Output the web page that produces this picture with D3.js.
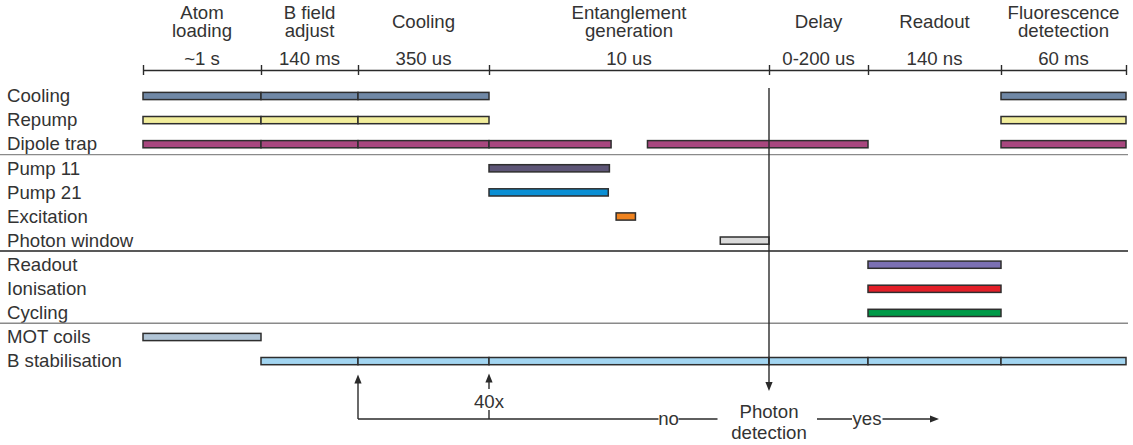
<!DOCTYPE html>
<html>
<head>
<meta charset="utf-8">
<script src="https://cdn.jsdelivr.net/npm/d3@7"></script>
<style>
  body { margin: 0; background: #fff; }
  svg { display: block; }
  text { font-family: "Liberation Sans", Arial, Helvetica, sans-serif; fill: #333; }
</style>
</head>
<body>
<svg id="chart" width="1133" height="445"></svg>
<script>
// ---- Sequence phases -------------------------------------------------------
const phaseNames = [
  ["Atom", "loading"], ["B field", "adjust"], ["Cooling"],
  ["Entanglement", "generation"], ["Delay"], ["Readout"],
  ["Fluorescence", "detetection"]
];
const phaseDurations = ["~1 s", "140 ms", "350 us", "10 us", "0-200 us", "140 ns", "60 ms"];

// ---- Channels (one row each) ----------------------------------------------
const channels = [
  "Cooling", "Repump", "Dipole trap",
  "Pump 11", "Pump 21", "Excitation", "Photon window",
  "Readout", "Ionisation", "Cycling",
  "MOT coils", "B stabilisation"
];
const groupEnds = ["Dipole trap", "Photon window", "Cycling"];
const channelColors = [
  "#7088a6", "#f2ee9c", "#a8477f",
  "#5d5576", "#0a8fd4", "#f0831f", "#d9d9d9",
  "#7b70b3", "#e31f28", "#009a48",
  "#b1c5d6", "#a2d5f1"
];

// Pulses: [channel, start, end] in phase units (n = start of phase n)
const pulses = [
  ["Cooling", 0, 1], ["Cooling", 1, 2], ["Cooling", 2, 3], ["Cooling", 6, 7],
  ["Repump", 0, 1], ["Repump", 1, 2], ["Repump", 2, 3], ["Repump", 6, 7],
  ["Dipole trap", 0, 1], ["Dipole trap", 1, 2], ["Dipole trap", 2, 3],
  ["Dipole trap", 3, 3.436], ["Dipole trap", 3.566, 5], ["Dipole trap", 6, 7],
  ["Pump 11", 3, 3.43],
  ["Pump 21", 3, 3.426],
  ["Excitation", 3.454, 3.523],
  ["Photon window", 3.826, 4],
  ["Readout", 5, 6],
  ["Ionisation", 5, 6],
  ["Cycling", 5, 6],
  ["MOT coils", 0, 1],
  ["B stabilisation", 1, 2], ["B stabilisation", 2, 3], ["B stabilisation", 3, 4],
  ["B stabilisation", 4, 5], ["B stabilisation", 5, 6], ["B stabilisation", 6, 7]
];

// Feedback loop annotations
const loopTargets = [2, 3];          // phases the sequence jumps back to
const detectionPhase = 4;            // photon detection happens at start of Delay
const repeatLabel = "40x";

// ---- Layout ----------------------------------------------------------------
const phaseWidthsPx = [118, 97, 131, 280, 99, 133, 125];
const x0 = 143;
const boundaries = [x0];
phaseWidthsPx.forEach(w => boundaries.push(boundaries[boundaries.length - 1] + w));

const svg = d3.select("#chart");
const ink = "#2a2a2a";
const fs = 17.5;
const stretch = 1.065;   // slightly wide lettering

// Piecewise-linear scale: integer domain values are phase boundaries
const x = d3.scaleLinear().domain(d3.range(phaseNames.length + 1)).range(boundaries);
const y = d3.scalePoint().domain(channels).range([96, 361.1]);
const color = d3.scaleOrdinal().domain(channels).range(channelColors);

// text helper: places a string with a horizontal stretch around its anchor
function txt(g, tx, ty, s, anchor = "middle") {
  return g.append("text")
    .attr("transform", `translate(${tx},${ty}) scale(${stretch},1)`)
    .attr("text-anchor", anchor).attr("font-size", fs).text(s);
}

// ---- Header: phase names, durations and timeline axis ----------------------
const axisY = 70;
const head = svg.append("g");
phaseNames.forEach((lines, i) => {
  const cx = (x(i) + x(i + 1)) / 2;
  if (lines.length === 1) txt(head, cx, 27.5, lines[0]);
  else lines.forEach((l, j) => txt(head, cx, 18.5 + j * 18.4, l));
  txt(head, cx, 64.5, phaseDurations[i]);
});

const axis = d3.axisTop(x).tickValues(d3.range(phaseNames.length + 1))
  .tickSizeInner(5).tickSizeOuter(0).tickFormat("");
const axG = svg.append("g").attr("transform", `translate(0,${axisY})`).call(axis);
axG.select(".domain").attr("stroke", ink).attr("stroke-width", 1.4);
axG.selectAll(".tick line").attr("stroke", ink).attr("stroke-width", 1.4).attr("y1", -5).attr("y2", 5);

// ---- Channel labels and group separators ----------------------------------
const rowLabels = svg.append("g");
channels.forEach(c => txt(rowLabels, 7, y(c) + 6.2, c, "start"));

const sepColors = ["#8a8a8a", "#222", "#8a8a8a"];
svg.append("g").selectAll("line").data(groupEnds).join("line")
  .attr("x1", 0).attr("x2", 1128)
  .attr("y1", d => y(d) + 10.4).attr("y2", d => y(d) + 10.4)
  .attr("stroke", (d, i) => sepColors[i]).attr("stroke-width", 1.4);

// ---- Pulses ---------------------------------------------------------------
const barH = 7.2;
svg.append("g").selectAll("rect").data(pulses).join("rect")
  .attr("x", d => x(d[1])).attr("width", d => x(d[2]) - x(d[1]))
  .attr("y", d => y(d[0]) - barH / 2).attr("height", barH)
  .attr("fill", d => color(d[0]))
  .attr("stroke", "#2e2e2e").attr("stroke-width", 1.5);

// ---- Arrow helper ---------------------------------------------------------
function arrowHead(g, tx, ty, dir) {
  const L = 9, W = 3.6;
  let pts;
  if (dir === "up") pts = [[tx, ty], [tx - W, ty + L], [tx + W, ty + L]];
  else if (dir === "down") pts = [[tx, ty], [tx - W, ty - L], [tx + W, ty - L]];
  else pts = [[tx, ty], [tx - L, ty - W], [tx - L, ty + W]];
  g.append("path").attr("d", d3.line()(pts) + "Z").attr("fill", ink);
}

const ann = svg.append("g").attr("stroke", ink).attr("stroke-width", 1.4).attr("fill", "none");
const label = svg.append("g");

// Photon detection marker
const xd = x(detectionPhase);
ann.append("line").attr("x1", xd).attr("x2", xd).attr("y1", 88).attr("y2", 383);
arrowHead(svg, xd, 391, "down");
txt(label, xd, 417.5, "Photon");
txt(label, xd, 438.5, "detection");

// "no" branch: loops back
const loopY = 419;
const xa = x(loopTargets[0]), xb = x(loopTargets[1]);
ann.append("line").attr("x1", xa).attr("x2", xa).attr("y1", loopY).attr("y2", 383);
arrowHead(svg, xa, 374.5, "up");
ann.append("line").attr("x1", xb).attr("x2", xb).attr("y1", loopY).attr("y2", 410);
ann.append("line").attr("x1", xb).attr("x2", xb).attr("y1", 389).attr("y2", 381);
arrowHead(svg, xb, 373.5, "up");
txt(label, xb, 407.5, repeatLabel);

ann.append("line").attr("x1", xa).attr("x2", 658.5).attr("y1", loopY).attr("y2", loopY);
txt(label, 668.5, 424.5, "no");
ann.append("line").attr("x1", 678.5).attr("x2", 717.5).attr("y1", loopY).attr("y2", loopY);

// "yes" branch: continues to readout
ann.append("line").attr("x1", 817).attr("x2", 852).attr("y1", loopY).attr("y2", loopY);
txt(label, 867, 424.5, "yes");
ann.append("line").attr("x1", 882.5).attr("x2", 931).attr("y1", loopY).attr("y2", loopY);
arrowHead(svg, 939, loopY, "right");
</script>
</body>
</html>
